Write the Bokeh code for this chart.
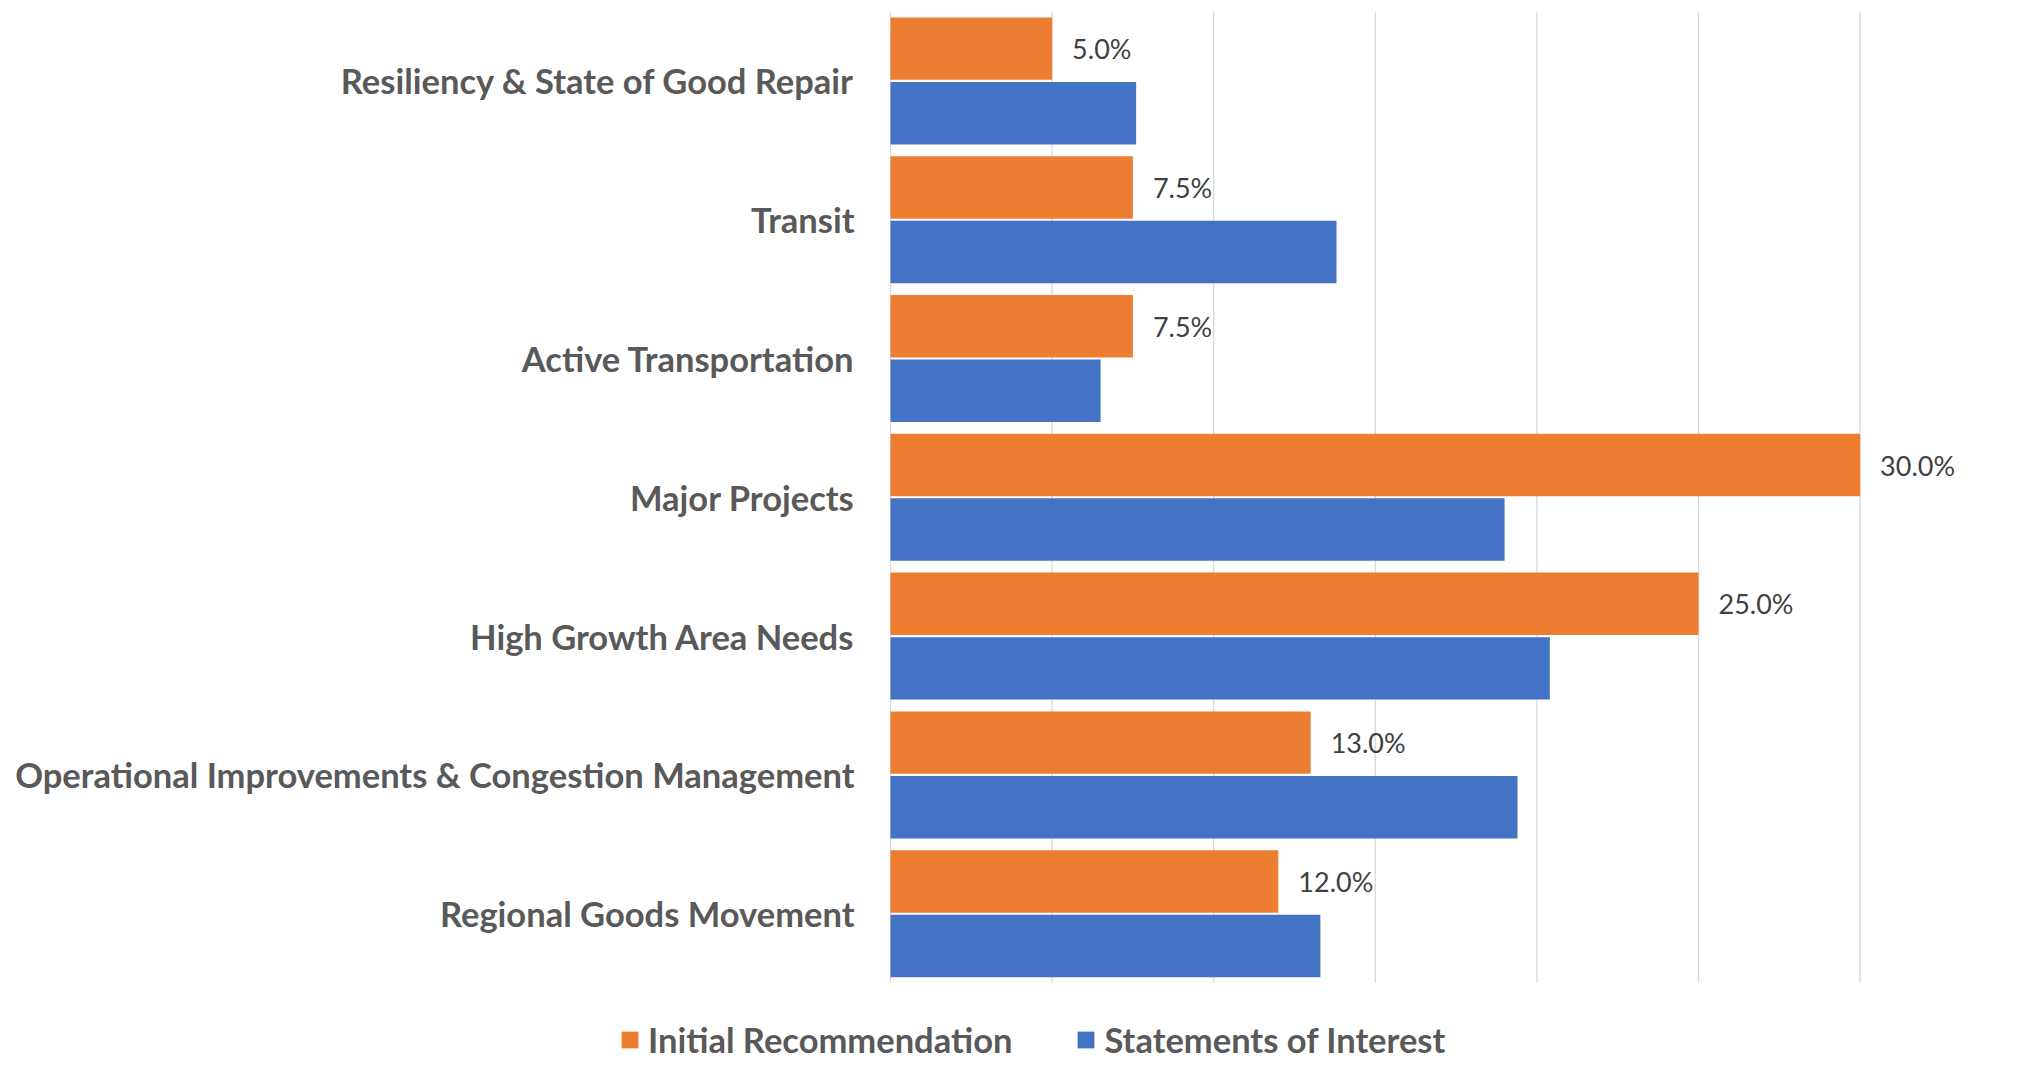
from bokeh.plotting import figure
from bokeh.models import ColumnDataSource, Range1d, Legend, LegendItem
from bokeh.core.properties import value
from bokeh.embed import file_html
from bokeh.resources import INLINE

# ---- data ----
categories = [
    "Resiliency & State of Good Repair",
    "Transit",
    "Active Transportation",
    "Major Projects",
    "High Growth Area Needs",
    "Operational Improvements & Congestion Management",
    "Regional Goods Movement",
]
initial_recommendation = [5.0, 7.5, 7.5, 30.0, 25.0, 13.0, 12.0]
statements_of_interest = [7.6, 13.8, 6.5, 19.0, 20.4, 19.4, 13.3]
series_names = ["Initial Recommendation", "Statements of Interest"]
x_ticks = [0, 5, 10, 15, 20, 25, 30]

ORANGE = "#ED7D31"
BLUE = "#4472C4"
GRID = "#D9D9D9"
LABEL_FONT = "Lato"

n = len(categories)
ypos = [n - 1 - i for i in range(n)]          # first category on top
BAR_H = 0.45
OFF = 0.2325

src = ColumnDataSource(dict(
    cat=categories,
    y=ypos,
    y_init=[v + OFF for v in ypos],
    y_soi=[v - OFF for v in ypos],
    init=initial_recommendation,
    soi=statements_of_interest,
    init_label=[f"{v:.1f}%" for v in initial_recommendation],
))

W, H = 2001, 1060
PX_X = 32.32    # px per percentage point
PX_Y = 138.8    # px per category
x0_px = 890     # where 0 lies on the canvas
top_px = 11     # where the top of the first category lies
x_start = -x0_px / PX_X
x_end = (W - x0_px) / PX_X
y_end = (n - 0.5) + top_px / PX_Y
y_start = y_end - H / PX_Y

p = figure(
    width=W, height=H,
    x_range=Range1d(x_start, x_end), y_range=Range1d(y_start, y_end),
    output_backend="svg", toolbar_location=None,
    min_border_left=0, min_border_right=0, min_border_top=0, min_border_bottom=0,
)
p.background_fill_color = "white"
p.border_fill_color = "white"
p.outline_line_color = None
p.xaxis.visible = False
p.yaxis.visible = False
p.xgrid.grid_line_color = None
p.ygrid.grid_line_color = None

# vertical gridlines over the category area only
p.segment(x0=x_ticks, x1=x_ticks, y0=[-0.5] * len(x_ticks), y1=[n - 0.5] * len(x_ticks),
          line_color=GRID, line_width=1.3)

r1 = p.hbar(y="y_init", right="init", left=0, height=BAR_H,
            source=src, fill_color=ORANGE, line_color=None)
r2 = p.hbar(y="y_soi", right="soi", left=0, height=BAR_H,
            source=src, fill_color=BLUE, line_color=None)

# value labels
p.text(x="init", y="y_init", text="init_label", source=src,
       x_offset=20, text_baseline="middle", text_align="left",
       text_font=value(LABEL_FONT), text_font_size="27px", text_color="#404040")

# category labels
p.text(x=0, y="y", text="cat", source=src,
       x_offset=-36, text_baseline="middle", text_align="right",
       text_font=value(LABEL_FONT), text_font_style="bold",
       text_font_size="34.5px", text_color="#595959")

legend = Legend(
    items=[LegendItem(label=series_names[0], renderers=[r1]),
           LegendItem(label=series_names[1], renderers=[r2])],
    orientation="horizontal",
    location=(619, 0),
    glyph_width=21, glyph_height=21,
    label_standoff=8, spacing=63,
    padding=0, margin=0,
    border_line_color=None, background_fill_alpha=0,
    label_text_font=LABEL_FONT, label_text_font_style="bold",
    label_text_font_size="34.5px", label_text_color="#595959",
    label_height=20,
)
p.add_layout(legend, "center")

open("out.html", "w").write(file_html(p, INLINE))
